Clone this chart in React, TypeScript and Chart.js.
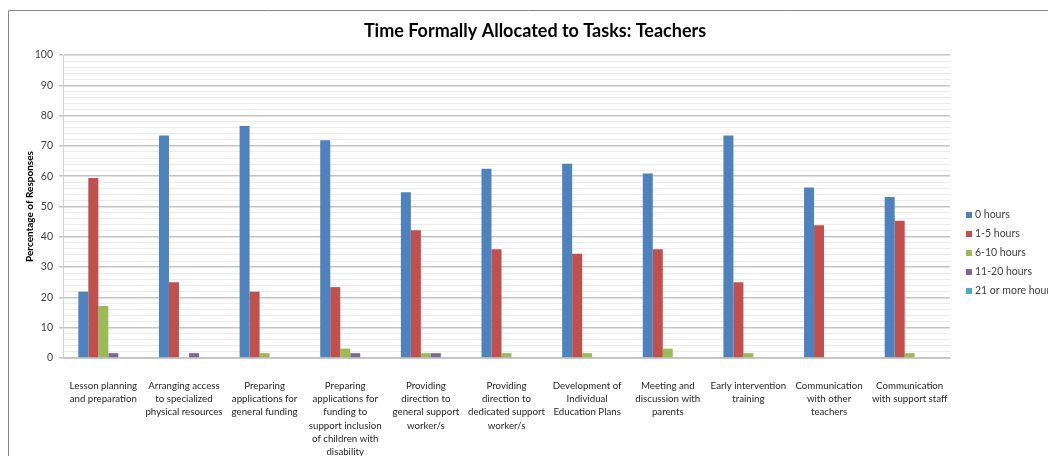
import React, { useEffect, useRef } from "react";
import { Chart, registerables } from "chart.js";

Chart.register(...registerables);

const chartTitle = "Time Formally Allocated to Tasks: Teachers";
const yAxisTitle = "Percentage of Responses";

const categories: string[][] = [
  ["Lesson planning", "and preparation"],
  ["Arranging access", "to specialized", "physical resources"],
  ["Preparing", "applications for", "general funding"],
  ["Preparing", "applications for", "funding to", "support inclusion", "of children with", "disability"],
  ["Providing", "direction to", "general support", "worker/s"],
  ["Providing", "direction to", "dedicated support", "worker/s"],
  ["Development of", "Individual", "Education Plans"],
  ["Meeting and", "discussion with", "parents"],
  ["Early intervention", "training"],
  ["Communication", "with other", "teachers"],
  ["Communication", "with support staff"],
];

const seriesNames = ["0 hours", "1-5 hours", "6-10 hours", "11-20 hours", "21 or more hours"];
const seriesColors = ["#4F81BD", "#C0504D", "#9BBB59", "#8064A2", "#4BACC6"];

const hours0 = [21.9, 73.4, 76.6, 71.9, 54.7, 62.5, 64.1, 60.9, 73.4, 56.3, 53.1];
const hours1to5 = [59.4, 25.0, 21.9, 23.4, 42.2, 35.9, 34.4, 35.9, 25.0, 43.8, 45.3];
const hours6to10 = [17.2, 0, 1.6, 3.1, 1.6, 1.6, 1.6, 3.1, 1.6, 0, 1.6];
const hours11to20 = [1.6, 1.6, 0, 1.6, 1.6, 0, 0, 0, 0, 0, 0];
const hours21plus = [0, 0, 0, 0, 0, 0, 0, 0, 0, 0, 0];

const yMin = 0;
const yMax = 100;
const yStep = 2;
const yLabelStep = 10;

const FONT = "Lato, 'Open Sans', sans-serif";

const decorPlugin = {
  id: "decor",
  beforeDraw(chart: any) {
    const ctx = chart.ctx;
    ctx.save();
    ctx.fillStyle = "#ffffff";
    ctx.fillRect(0, 0, chart.width, chart.height);
    ctx.strokeStyle = "#868686";
    ctx.lineWidth = 1;
    ctx.beginPath();
    ctx.moveTo(8.5, chart.height);
    ctx.lineTo(8.5, 10.5);
    ctx.lineTo(chart.width, 10.5);
    ctx.stroke();
    ctx.restore();
  },
  afterDraw(chart: any) {
    const ctx = chart.ctx;
    const area = chart.chartArea;
    ctx.save();
    // title
    ctx.fillStyle = "#000000";
    ctx.font = `bold 18px ${FONT}`;
    ctx.textAlign = "center";
    ctx.textBaseline = "middle";
    ctx.fillText(chartTitle, 535, 31);
    // y axis title
    ctx.save();
    ctx.translate(30, (area.top + area.bottom) / 2);
    ctx.rotate(-Math.PI / 2);
    ctx.font = `bold 10px ${FONT}`;
    ctx.fillStyle = "#000000";
    ctx.fillText(yAxisTitle, 0, 0);
    ctx.restore();
    // legend
    ctx.font = `10.5px ${FONT}`;
    ctx.textAlign = "left";
    ctx.textBaseline = "middle";
    chart.data.datasets.forEach((ds: any, i: number) => {
      const cy = 215 + 19 * i;
      ctx.fillStyle = ds.backgroundColor;
      ctx.fillRect(966, cy - 3, 6, 6);
      ctx.fillStyle = "#404040";
      ctx.fillText(ds.label, 975, cy);
    });
    ctx.restore();
  },
};

export default function App() {
  const canvasRef = useRef<HTMLCanvasElement | null>(null);

  useEffect(() => {
    document.body.style.margin = "0";
    const canvas = canvasRef.current;
    if (!canvas) return;
    const seriesValues = [hours0, hours1to5, hours6to10, hours11to20, hours21plus];
    const chart = new Chart(canvas, {
      type: "bar",
      data: {
        labels: categories,
        datasets: seriesNames.map((name, i) => ({
          label: name,
          data: seriesValues[i],
          backgroundColor: seriesColors[i],
          borderWidth: 0,
          barPercentage: 1,
          categoryPercentage: 0.62,
        })),
      },
      options: {
        animation: false,
        responsive: false,
        maintainAspectRatio: false,
        layout: { padding: { left: 23, top: 55, right: 98, bottom: 0 } },
        plugins: {
          legend: { display: false },
          title: { display: false },
          tooltip: { enabled: false },
        },
        scales: {
          x: {
            grid: { display: false, drawTicks: false },
            border: { display: true, color: "#c8c8c8", width: 1 },
            ticks: {
              autoSkip: false,
              maxRotation: 0,
              minRotation: 0,
              padding: 21,
              color: "#262626",
              font: { family: FONT, size: 9.7, lineHeight: 1.37 },
            },
            afterFit: (scale: any) => {
              scale.height = 98;
            },
          },
          y: {
            min: yMin,
            max: yMax,
            ticks: {
              stepSize: yStep,
              autoSkip: false,
              padding: 6,
              color: "#404040",
              font: { family: FONT, size: 10.5 },
              callback: (v: any) => (Number(v) % yLabelStep === 0 ? String(v) : ""),
            },
            grid: {
              drawTicks: true,
              tickLength: 4,
              color: (c: any) =>
                c.tick && c.tick.value % yLabelStep === 0 ? "#c4c4c4" : "#ebebeb",
              tickColor: (c: any) =>
                c.tick && c.tick.value % yLabelStep === 0 ? "#c4c4c4" : "rgba(0,0,0,0)",
              lineWidth: (c: any) => (c.tick && c.tick.value % yLabelStep === 0 ? 1.5 : 1),
            },
            border: { display: true, color: "#d0d0d0", width: 1 },
            afterFit: (scale: any) => {
              scale.width = 40;
            },
          },
        },
      },
      plugins: [decorPlugin],
    } as any);
    return () => chart.destroy();
  }, []);

  return (
    <div style={{ width: 1048, height: 456 }}>
      <canvas ref={canvasRef} width={1048} height={456} style={{ display: "block" }} />
    </div>
  );
}
